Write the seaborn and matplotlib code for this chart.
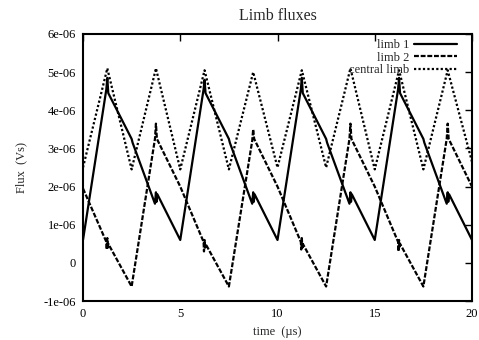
import pandas as pd
import seaborn as sns
import matplotlib.pyplot as plt
from matplotlib.ticker import FuncFormatter

# flux values in units of 1e-6 Vs, time in microseconds
limb1_t = [0.0, 1.2, 1.25, 1.3, 2.5, 2.55, 3.7, 3.75, 3.78, 3.82,
           5.0, 6.2, 6.25, 6.3, 7.5, 7.55, 8.7, 8.75, 8.78, 8.82,
           10.0, 11.2, 11.25, 11.3, 12.5, 12.55, 13.7, 13.75, 13.78, 13.82,
           15.0, 16.2, 16.25, 16.3, 17.5, 17.55, 18.7, 18.75, 18.78, 18.82,
           20.0]
limb1_v = [0.6, 4.55, 4.85, 4.45, 3.25, 3.15, 1.55, 1.85, 1.6, 1.8,
           0.6, 4.55, 4.8, 4.45, 3.25, 3.15, 1.55, 1.85, 1.6, 1.8,
           0.6, 4.55, 4.85, 4.45, 3.25, 3.15, 1.55, 1.85, 1.6, 1.8,
           0.6, 4.55, 4.85, 4.45, 3.25, 3.15, 1.55, 1.85, 1.6, 1.8,
           0.6]

limb2_t = [0.0, 1.2, 1.22, 1.25, 1.28, 1.3, 2.5, 3.7, 3.75, 3.8,
           5.0, 6.2, 6.22, 6.25, 6.28, 6.3, 7.5, 8.7, 8.75, 8.8,
           10.0, 11.2, 11.22, 11.25, 11.28, 11.3, 12.5, 13.7, 13.75, 13.8,
           15.0, 16.2, 16.22, 16.25, 16.28, 16.3, 17.5, 18.7, 18.75, 18.8,
           20.0]
limb2_v = [1.95, 0.55, 0.35, 0.65, 0.4, 0.5, -0.62, 3.25, 3.65, 3.25,
           2.0, 0.55, 0.3, 0.6, 0.4, 0.5, -0.62, 3.2, 3.5, 3.25,
           2.0, 0.55, 0.35, 0.65, 0.4, 0.5, -0.62, 3.25, 3.65, 3.25,
           2.0, 0.55, 0.3, 0.6, 0.4, 0.5, -0.62, 3.25, 3.65, 3.25,
           2.0]

central_t = [0.0, 1.25, 2.5, 3.75, 5.0, 6.25, 7.5, 8.75, 10.0,
             11.25, 12.5, 13.75, 15.0, 16.25, 17.5, 18.75, 20.0]
central_v = [2.5, 5.1, 2.45, 5.1, 2.45, 5.05, 2.45, 5.0, 2.5,
             5.05, 2.5, 5.1, 2.45, 5.05, 2.45, 5.05, 2.65]

y_ticks = [-1, 0, 1, 2, 3, 4, 5, 6]
x_ticks = [0, 5, 10, 15, 20]

sns.set_style("white")
plt.rcParams['font.family'] = ['Liberation Serif', 'DejaVu Serif']

fig = plt.figure(figsize=(4.79, 3.40), dpi=100)
ax = fig.add_axes([83 / 479, 1 - 301 / 340, 389 / 479, 267 / 340])

df1 = pd.DataFrame({'t': limb1_t, 'flux': [v * 1e-6 for v in limb1_v]})
df2 = pd.DataFrame({'t': limb2_t, 'flux': [v * 1e-6 for v in limb2_v]})
df3 = pd.DataFrame({'t': central_t, 'flux': [v * 1e-6 for v in central_v]})

sns.lineplot(data=df1, x='t', y='flux', ax=ax, color='black', lw=1.6,
             label='limb 1', sort=False)
sns.lineplot(data=df2, x='t', y='flux', ax=ax, color='black', lw=1.6,
             label='limb 2', sort=False)
sns.lineplot(data=df3, x='t', y='flux', ax=ax, color='black', lw=1.6,
             label='central limb', sort=False)
ax.lines[1].set_dashes([2.2, 0.8])
ax.lines[2].set_dashes([1.0, 1.0])

ax.set_xlim(0, 20)
ax.set_ylim(-1e-6, 6e-6)
ax.set_xticks(x_ticks)
ax.set_yticks([v * 1e-6 for v in y_ticks])

def fmt(v, pos):
    if abs(v) < 1e-12:
        return '0'
    return f'{v:.0e}'

ax.yaxis.set_major_formatter(FuncFormatter(fmt))
ax.tick_params(direction='in', length=5, width=1, top=True, right=True,
               labelsize=9, pad=5, colors='black')
for s in ax.spines.values():
    s.set_linewidth(1.5)
    s.set_color('black')

ax.set_title('Limb fluxes', fontsize=11.5, pad=10)
ax.set_xlabel('time  (µs)', fontsize=9, labelpad=4)
ax.set_ylabel('Flux  (Vs)', fontsize=9, labelpad=12)

ax.legend(loc='upper right', bbox_to_anchor=(1 - 15 / 389, 1 - 5 / 267),
          frameon=False, markerfirst=False, fontsize=9,
          handlelength=3.4, handletextpad=0.4, labelspacing=0.05,
          borderaxespad=0, borderpad=0)

fig.savefig('out.png', dpi=100)
